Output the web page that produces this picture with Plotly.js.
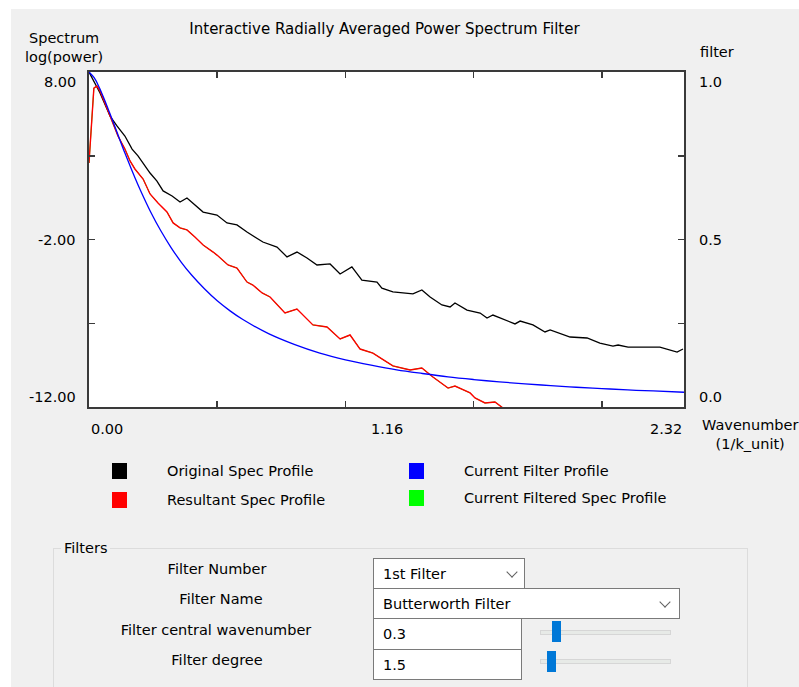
<!DOCTYPE html>
<html>
<head>
<meta charset="utf-8">
<script src="https://cdn.plot.ly/plotly-3.0.1.min.js"></script>
<style>
  html, body { margin:0; padding:0; background:#ffffff; width:799px; height:687px; overflow:hidden; font-family:"DejaVu Sans", sans-serif; }
  #bg { position:absolute; left:11px; top:9px; width:788px; height:678px; background:#f0f0f0; }
  #chart { position:absolute; left:0; top:0; width:799px; height:687px; }
  .lbl { position:absolute; font-size:14.5px; color:#000; white-space:nowrap; transform:translate(-50%,-50%); }
  .box { position:absolute; background:#fff; border:1px solid #7a7a7a; box-sizing:border-box; font-size:14.5px; color:#000; }
  .box span { position:absolute; left:9px; top:50%; transform:translateY(-50%); }
  .chev { position:absolute; top:50%; width:7px; height:7px; border-right:1.5px solid #606060; border-bottom:1.5px solid #606060; transform:translate(-50%,-75%) rotate(45deg); }
  #group { position:absolute; left:53px; top:548px; width:695px; height:160px; border:1px solid #dcdcdc; box-sizing:border-box; }
  #groupTitle { position:absolute; left:61px; top:540px; background:#f0f0f0; padding:0 3px; font-size:14.5px; }
  .track { position:absolute; height:5px; background:#e7eae7; border:1px solid #d6d6d6; box-sizing:border-box; }
  .thumb { position:absolute; width:9px; height:21px; background:#0078d7; }
</style>
</head>
<body>
<div id="bg"></div>
<div id="chart"></div>

<div id="group"></div>
<div id="groupTitle">Filters</div>
<div class="lbl" style="left:217px; top:569px;">Filter Number</div>
<div class="lbl" style="left:221px; top:599px;">Filter Name</div>
<div class="lbl" style="left:216px; top:630px;">Filter central wavenumber</div>
<div class="lbl" style="left:217px; top:660px;">Filter degree</div>

<div class="box" style="left:373px; top:558px; width:152px; height:31px;"><span>1st Filter</span><div class="chev" style="left:138px;"></div></div>
<div class="box" style="left:373px; top:588px; width:307px; height:31px;"><span>Butterworth Filter</span><div class="chev" style="left:291px;"></div></div>
<div class="box" style="left:373px; top:618px; width:149px; height:32px;"><span>0.3</span></div>
<div class="box" style="left:373px; top:649px; width:149px; height:31px;"><span>1.5</span></div>

<div class="track" style="left:540px; top:630px; width:131px;"></div>
<div class="thumb" style="left:552px; top:621px;"></div>
<div class="track" style="left:540px; top:659px; width:131px;"></div>
<div class="thumb" style="left:547px; top:651px;"></div>

<script>
// ---------------- data ----------------
const origX = [0,0.02,0.043,0.082,0.109,0.140,0.168,0.191,0.211,0.238,0.265,0.289,0.324,0.355,0.382,0.445,0.499,0.538,0.577,0.616,0.678,0.733,0.772,0.811,0.850,0.889,0.940,0.979,1.025,1.064,1.123,1.142,1.185,1.263,1.298,1.330,1.376,1.408,1.427,1.474,1.525,1.552,1.575,1.630,1.661,1.681,1.731,1.778,1.798,1.876,1.942,1.992,2.043,2.063,2.102,2.226,2.265,2.293,2.316];
const origY = [8.0,7.45,6.75,5.37,4.78,4.18,3.40,2.99,2.57,1.97,1.49,0.90,0.60,0.24,0.48,-0.36,-0.54,-1.01,-1.13,-1.55,-2.15,-2.45,-3.04,-2.75,-3.10,-3.52,-3.46,-4.06,-3.64,-4.42,-4.54,-4.90,-5.13,-5.25,-5.01,-5.43,-5.91,-6.03,-5.79,-6.21,-6.39,-6.69,-6.51,-6.87,-7.04,-6.87,-7.10,-7.52,-7.40,-7.82,-7.88,-8.18,-8.36,-8.30,-8.42,-8.42,-8.60,-8.72,-8.54];

const resX = [0,0.004,0.012,0.019,0.031,0.043,0.062,0.082,0.113,0.140,0.160,0.179,0.199,0.211,0.238,0.269,0.304,0.328,0.355,0.382,0.413,0.445,0.484,0.499,0.542,0.577,0.616,0.639,0.675,0.706,0.764,0.811,0.873,0.928,0.979,1.018,1.057,1.107,1.142,1.185,1.252,1.298,1.341,1.400,1.427,1.486,1.505,1.544,1.583,1.614];
const resY = [2.57,3.58,5.73,7.04,7.16,6.87,6.15,5.37,4.18,3.40,2.69,2.21,1.79,1.61,0.72,0.18,-0.36,-1.01,-1.31,-1.43,-1.85,-2.33,-2.75,-2.93,-3.52,-3.70,-4.54,-4.72,-5.19,-5.43,-6.39,-6.15,-7.10,-7.22,-7.94,-7.70,-8.54,-8.78,-9.13,-9.55,-9.79,-9.67,-10.21,-10.87,-10.75,-11.16,-11.46,-11.76,-11.70,-12.06];

// filtered spectrum of the single current filter (coincides with the resultant, drawn beneath it)
const filtSpecX = resX;
const filtSpecY = resY;

const filtX = [0,0.02,0.04,0.06,0.08,0.10,0.12,0.14,0.16,0.18,0.20,0.24,0.28,0.32,0.36,0.40,0.45,0.50,0.55,0.60,0.70,0.80,0.90,1.00,1.10,1.20,1.30,1.40,1.50,1.60,1.70,1.80,1.90,2.00,2.10,2.20,2.32];
const filtY = [1.0,0.983,0.954,0.918,0.879,0.839,0.798,0.758,0.720,0.683,0.648,0.583,0.526,0.476,0.432,0.394,0.353,0.317,0.287,0.261,0.219,0.187,0.161,0.141,0.125,0.111,0.100,0.090,0.082,0.075,0.069,0.064,0.059,0.055,0.051,0.048,0.044];

const seriesNames  = ["Original Spec Profile","Resultant Spec Profile","Current Filter Profile","Current Filtered Spec Profile"];
const seriesColors = ["#000000","#ff0000","#0000ff","#00ff00"];

const xTickMarks  = [0.5,1.0,1.5,2.0];
const xTickLabels = ["0.00","1.16","2.32"];
const xTickVals   = [0,1.16,2.32];
const yTickMarks  = [3,-2,-7];
const yTickVals   = [8,-2,-12];
const yTickLabels = ["8.00","-2.00","-12.00"];
const y2TickVals   = [1.0,0.5,0.0];
const y2TickLabels = ["1.0","0.5","0.0"];

// ---------------- layout helpers (pixel -> paper) ----------------
const L = 89, R = 684, T = 72, B = 407;
const W = R - L, H = B - T;
const px = p => (p - L) / W;
const py = p => (B - p) / H;

const FONT = "DejaVu Sans, sans-serif";
const FS = 14.5;

const traces = [
  {x: filtSpecX, y: filtSpecY, mode: "lines", line: {color: seriesColors[3], width: 1}, showlegend: false, hoverinfo: "skip"},
  {x: origX, y: origY, mode: "lines", line: {color: seriesColors[0], width: 1.3}, showlegend: false},
  {x: resX, y: resY, mode: "lines", line: {color: seriesColors[1], width: 1.4}, showlegend: false},
  {x: filtX, y: filtY, yaxis: "y2", mode: "lines", line: {color: seriesColors[2], width: 1.3, shape: "spline"}, showlegend: false}
];

const ann = [];
const shapes = [];

// axis titles
ann.push({xref:"paper", yref:"paper", x:px(64), y:py(47.5), text:"Spectrum<br>log(power)", showarrow:false, xanchor:"center", yanchor:"middle", align:"center"});
ann.push({xref:"paper", yref:"paper", x:px(698), y:py(52), text:"filter", showarrow:false, xanchor:"left", yanchor:"middle"});
ann.push({xref:"paper", yref:"paper", x:px(750), y:py(434), text:"Wavenumber<br>(1/k_unit)", showarrow:false, xanchor:"center", yanchor:"middle", align:"center"});

// tick labels
const xAnch = ["left","center","right"];
xTickVals.forEach((v,i) => ann.push({xref:"x", yref:"paper", x:v, y:0, yshift:-12, text:xTickLabels[i], showarrow:false, xanchor:xAnch[i], yanchor:"top"}));
const yAnch = ["top","middle","bottom"];
yTickVals.forEach((v,i) => ann.push({xref:"paper", yref:"y", x:px(78), y:v, text:yTickLabels[i], showarrow:false, xanchor:"right", yanchor:yAnch[i]}));
y2TickVals.forEach((v,i) => ann.push({xref:"paper", yref:"y2", x:px(697), y:v, text:y2TickLabels[i], showarrow:false, xanchor:"left", yanchor:yAnch[i]}));

// legend (2 x 2 grid of coloured squares)
const legendOrder = [0,1,2,3];
const legendCols = [112, 409];
const legendRows = [471, 500];
legendOrder.forEach((s,i) => {
  const col = legendCols[i < 2 ? 0 : 1];
  const row = legendRows[i % 2] - (i === 3 ? 2 : 0);
  shapes.push({type:"rect", xref:"paper", yref:"paper", x0:px(col), x1:px(col+15), y0:py(row+8), y1:py(row-8), fillcolor:seriesColors[s], line:{width:0}});
  ann.push({xref:"paper", yref:"paper", x:px(col+53), y:py(row), text:seriesNames[s], showarrow:false, xanchor:"left", yanchor:"middle"});
});

const layout = {
  width: 799, height: 687,
  margin: {l: L, r: 799 - R, t: T, b: 687 - B, pad: 0},
  paper_bgcolor: "rgba(0,0,0,0)",
  plot_bgcolor: "#ffffff",
  font: {family: FONT, size: FS, color: "#000000"},
  title: {text: "Interactive Radially Averaged Power Spectrum Filter", xref: "paper", x: px(384.5), xanchor: "center", yref: "container", y: 1 - 29/687, yanchor: "middle", font: {family: FONT, size: 15, color: "#000000"}},
  showlegend: false,
  xaxis: {range: [0, 2.32], showgrid: false, zeroline: false, showline: true, linecolor: "#3a3a3a", linewidth: 2, mirror: "ticks", ticks: "inside", tickvals: xTickMarks, ticklen: 6, tickwidth: 1.5, tickcolor: "#3a3a3a", showticklabels: false},
  yaxis: {range: [-12, 8], showgrid: false, zeroline: false, showline: true, linecolor: "#3a3a3a", linewidth: 2, mirror: "ticks", ticks: "inside", tickvals: yTickMarks, ticklen: 6, tickwidth: 1.5, tickcolor: "#3a3a3a", showticklabels: false},
  yaxis2: {range: [0, 1], overlaying: "y", side: "right", showgrid: false, zeroline: false, showline: false, ticks: "", showticklabels: false},
  annotations: ann,
  shapes: shapes
};

Plotly.newPlot("chart", traces, layout, {displayModeBar: false, staticPlot: true});
</script>
</body>
</html>
